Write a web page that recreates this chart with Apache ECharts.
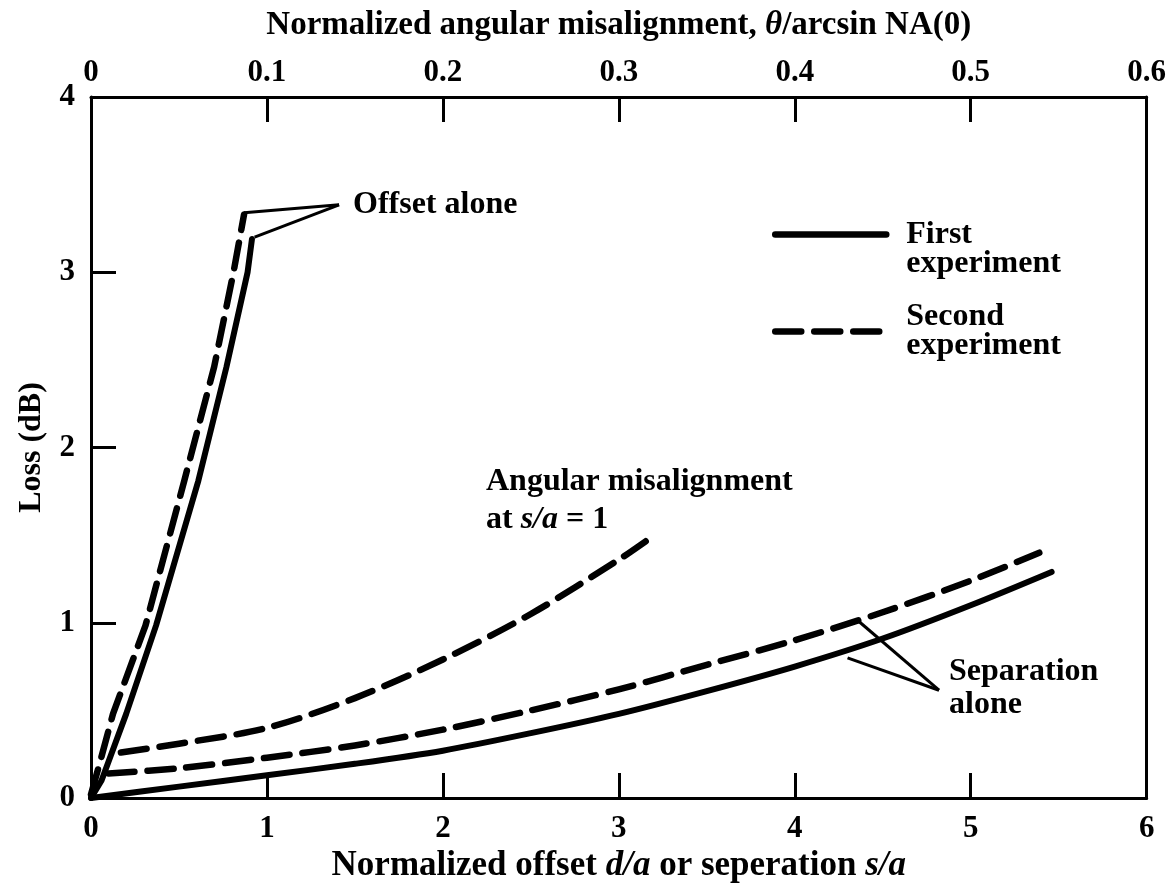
<!DOCTYPE html>
<html><head><meta charset="utf-8">
<script src="https://cdn.jsdelivr.net/npm/echarts@6/dist/echarts.min.js"></script>
<style>html,body{margin:0;padding:0;background:#fff}#c{width:1169px;height:891px}</style>
</head><body><div id="c"></div>
<script>
// ---- data ----
const xTickLabels = ['0','1','2','3','4','5','6'];
const topTickLabels = ['0','0.1','0.2','0.3','0.4','0.5','0.6'];
const yTickLabels = ['0','1','2','3','4'];

// Offset alone (x = d/a)
const offsetFirst  = [[0,0],[0.06,0.10],[0.20,0.48],[0.37,0.985],[0.61,1.81],[0.77,2.46],[0.89,3.00],[0.915,3.19]];
const offsetSecond = [[0,0.02],[0.05,0.20],[0.125,0.48],[0.31,0.985],[0.53,1.81],[0.70,2.46],[0.81,3.00],[0.87,3.33]];
// Separation alone (x = s/a)
const sepFirst  = [[0,0],[0.5,0.065],[1,0.13],[1.5,0.195],[2,0.27],[2.5,0.37],[3,0.48],[3.5,0.61],[4,0.75],[4.5,0.91],[5,1.10],[5.46,1.29]];
const sepSecond = [[0.1,0.14],[0.5,0.17],[1,0.23],[1.5,0.30],[2,0.39],[2.5,0.50],[3,0.62],[3.5,0.76],[4,0.90],[4.5,1.06],[5,1.24],[5.39,1.40]];
// Angular misalignment at s/a = 1 (x = theta / arcsin NA(0), top axis)
const angSecond = [[0.017,0.26],[0.05,0.31],[0.10,0.40],[0.15,0.57],[0.20,0.79],[0.25,1.05],[0.30,1.36],[0.316,1.47]];
// Annotation pointers (bottom-axis units)
const offsetPtrUpper = [[1.41,3.385],[0.87,3.34]];
const offsetPtrLower = [[1.41,3.385],[0.93,3.20]];
const sepPtrUpper = [[4.82,0.615],[4.35,1.02]];
const sepPtrLower = [[4.82,0.615],[4.30,0.80]];

// ---- chart ----
const FONT = '"Liberation Serif", "DejaVu Serif", serif';
const chart = echarts.init(document.getElementById('c'));
const nameStyle = (fs) => ({color: '#000', fontFamily: FONT, fontWeight: 'bold', fontSize: fs,
  rich: {i: {fontFamily: FONT, fontWeight: 'bold', fontStyle: 'italic', fontSize: fs, color: '#000'}}});
const axisCommon = {
  axisLine: {show: true, onZero: false, lineStyle: {color: '#000', width: 3}},
  axisTick: {show: true, inside: true, length: 25, lineStyle: {color: '#000', width: 3}},
  splitLine: {show: false}
};
const lbl = (arr, step) => (v) => arr[Math.round(v / step)] || '';
const labelStyle = {color: '#000', fontFamily: FONT, fontWeight: 'bold', fontSize: 31};
const solid = {color: '#000', width: 6, cap: 'round', join: 'round'};
const dashed = {color: '#000', width: 6.5, type: [26, 13], cap: 'round', join: 'round'};
const ptr = {color: '#000', width: 3};
const mk = (name, data, ls, xi, smooth) => ({
  name, type: 'line', data, xAxisIndex: xi || 0, yAxisIndex: 0,
  showSymbol: false, symbol: 'none', smooth: smooth === undefined ? 0.3 : smooth,
  lineStyle: ls, itemStyle: {color: '#000'}, silent: true, z: 3
});
const txt = (text, x, y) => ({type: 'text', style: {text, x, y, verticalAlign: 'middle', fill: '#000',
  fontFamily: FONT, fontWeight: 'bold', fontSize: 32,
  rich: {i: {fontFamily: FONT, fontWeight: 'bold', fontStyle: 'italic', fontSize: 32, fill: '#000'}}}});

chart.setOption({
  animation: false,
  backgroundColor: '#fff',
  grid: {left: 91, top: 97, width: 1056, height: 701},
  xAxis: [
    Object.assign({}, axisCommon, {
      type: 'value', position: 'bottom', min: 0, max: 6, interval: 1,
      axisLabel: Object.assign({}, labelStyle, {margin: 15, formatter: lbl(xTickLabels, 1)}),
      name: 'Normalized offset {i|d/a} or seperation {i|s/a}', nameLocation: 'middle', nameGap: 48,
      nameTextStyle: nameStyle(35)
    }),
    Object.assign({}, axisCommon, {
      type: 'value', position: 'top', min: 0, max: 0.6, interval: 0.1,
      axisLabel: Object.assign({}, labelStyle, {margin: 9, formatter: lbl(topTickLabels, 0.1)}),
      name: 'Normalized angular misalignment, {i|θ}/arcsin NA(0)', nameLocation: 'middle', nameGap: 55,
      nameTextStyle: nameStyle(33)
    })
  ],
  yAxis: [
    Object.assign({}, axisCommon, {
      type: 'value', position: 'left', min: 0, max: 4, interval: 1,
      axisLabel: Object.assign({}, labelStyle, {margin: 16, formatter: lbl(yTickLabels, 1)}),
      name: 'Loss (dB)', nameLocation: 'middle', nameRotate: 90, nameGap: 43,
      nameTextStyle: nameStyle(32)
    }),
    {
      type: 'value', position: 'right', min: 0, max: 4, interval: 1,
      axisLine: {show: true, onZero: false, lineStyle: {color: '#000', width: 3}},
      axisTick: {show: false}, axisLabel: {show: false}, splitLine: {show: false}
    }
  ],
  legend: {
    orient: 'vertical', left: 772, top: 189.5, padding: 0,
    itemWidth: 111, itemHeight: 14, itemGap: 21.5, selectedMode: false,
    itemStyle: {opacity: 0},
    lineStyle: {width: 6.5},
    formatter: (n) => n === 'First experiment' ? ' \nFirst\nexperiment' : n.replace(' ', '\n'),
    textStyle: {color: '#000', fontFamily: FONT, fontWeight: 'bold', fontSize: 32, lineHeight: 29, padding: [0, 0, 0, 15]},
    data: ['First experiment', 'Second experiment']
  },
  graphic: [
    txt('Offset alone', 353, 205),
    txt('Angular misalignment', 486, 482),
    txt('at {i|s/a} = 1', 486, 520),
    txt('Separation', 949, 672),
    txt('alone', 949, 705)
  ],
  series: [
    mk('Second experiment', offsetSecond, dashed, 0, false),
    mk('First experiment', offsetFirst, solid, 0, false),
    mk('Second experiment', sepSecond, dashed, 0),
    mk('First experiment', sepFirst, solid, 0),
    mk('Second experiment', angSecond, dashed, 1),
    mk('pointer', offsetPtrUpper, ptr, 0, false),
    mk('pointer', offsetPtrLower, ptr, 0, false),
    mk('pointer', sepPtrUpper, ptr, 0, false),
    mk('pointer', sepPtrLower, ptr, 0, false)
  ]
});
</script></body></html>
